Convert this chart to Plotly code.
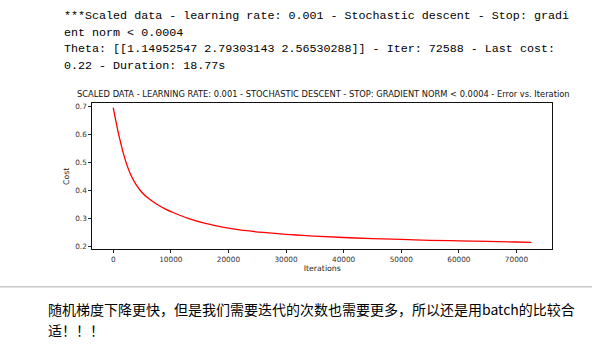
import plotly.graph_objects as go

# ---- data ----
iterations = [0, 1000, 2000, 3000, 4000, 5000, 6000, 7500, 9000, 10500, 13000, 16000, 19000,
              22000, 26000, 30000, 35000, 40000, 45000, 50000, 55000, 60000, 65000, 70000, 72588]
cost = [0.695, 0.595, 0.515, 0.458, 0.420, 0.393, 0.374, 0.352, 0.335, 0.321, 0.301, 0.283, 0.270,
        0.260, 0.251, 0.244, 0.238, 0.233, 0.229, 0.226, 0.223, 0.221, 0.219, 0.217, 0.216]
x_ticks = [0, 10000, 20000, 30000, 40000, 50000, 60000, 70000]
y_ticks = [0.2, 0.3, 0.4, 0.5, 0.6, 0.7]

header_lines = [
    "***Scaled data - learning rate: 0.001 - Stochastic descent - Stop: gradi",
    "ent norm &lt; 0.0004",
    "Theta: [[1.14952547 2.79303143 2.56530288]] - Iter: 72588 - Last cost:",
    "0.22 - Duration: 18.77s",
]
footer_lines = [
    "随机梯度下降更快，但是我们需要迭代的次数也需要更多，所以还是用batch的比较合",
    "适！！！",
]
chart_title = "SCALED DATA - LEARNING RATE: 0.001 - STOCHASTIC DESCENT - STOP: GRADIENT NORM &lt; 0.0004 - Error vs. Iteration"

W, H = 592, 355
px_x = lambda p: p / W
px_y = lambda p: 1 - p / H

fig = go.Figure()
fig.add_trace(go.Scatter(x=iterations, y=cost, mode="lines",
                         line=dict(color="#ff0000", width=1.3, shape="spline", smoothing=1.0),
                         hoverinfo="skip", showlegend=False))

axis_common = dict(showline=True, mirror=True, linecolor="#111111", linewidth=1,
                   ticks="outside", ticklen=3, tickcolor="#222222", tickwidth=1,
                   showgrid=False, zeroline=False,
                   tickfont=dict(family="DejaVu Sans", size=7.3, color="#333333"))

fig.update_layout(
    width=W, height=H, margin=dict(l=0, r=0, t=0, b=0),
    paper_bgcolor="white", plot_bgcolor="white",
    xaxis=dict(domain=[px_x(92.3), px_x(552.3)], range=[-3629, 76217],
               tickvals=x_ticks, ticktext=[str(v) for v in x_ticks],
               title=dict(text="Iterations", standoff=2,
                          font=dict(family="DejaVu Sans", size=7.8, color="#222222")),
               **axis_common),
    yaxis=dict(domain=[px_y(250), px_y(102.5)], range=[0.1915, 0.7098],
               tickvals=y_ticks, ticktext=[f"{v:.1f}" for v in y_ticks],
               title=dict(text="Cost", standoff=4,
                          font=dict(family="DejaVu Sans", size=7.8, color="#222222")),
               **axis_common),
)

annotations = []
annotations.append(dict(x=px_x(323), y=px_y(93), xref="paper", yref="paper",
                        text=chart_title, showarrow=False, xanchor="center", yanchor="middle",
                        font=dict(family="DejaVu Sans", size=8.3, color="#111111")))
for i, t in enumerate(header_lines):
    annotations.append(dict(x=px_x(62), y=px_y(14 + 17 * i), xref="paper", yref="paper",
                            text=t, showarrow=False, xanchor="left", yanchor="middle",
                            font=dict(family="Liberation Mono", size=11.7, color="#000000")))
for i, t in enumerate(footer_lines):
    annotations.append(dict(x=px_x(46), y=px_y(311 + 21 * i), xref="paper", yref="paper",
                            text=t, showarrow=False, xanchor="left", yanchor="middle",
                            font=dict(family="Noto Sans CJK SC", size=14, color="#000000")))
fig.update_layout(annotations=annotations)

fig.add_shape(type="line", xref="paper", yref="paper", x0=0, x1=1,
              y0=px_y(288), y1=px_y(288), line=dict(color="#c8c8c8", width=1.5))

fig.write_html("out.html")
